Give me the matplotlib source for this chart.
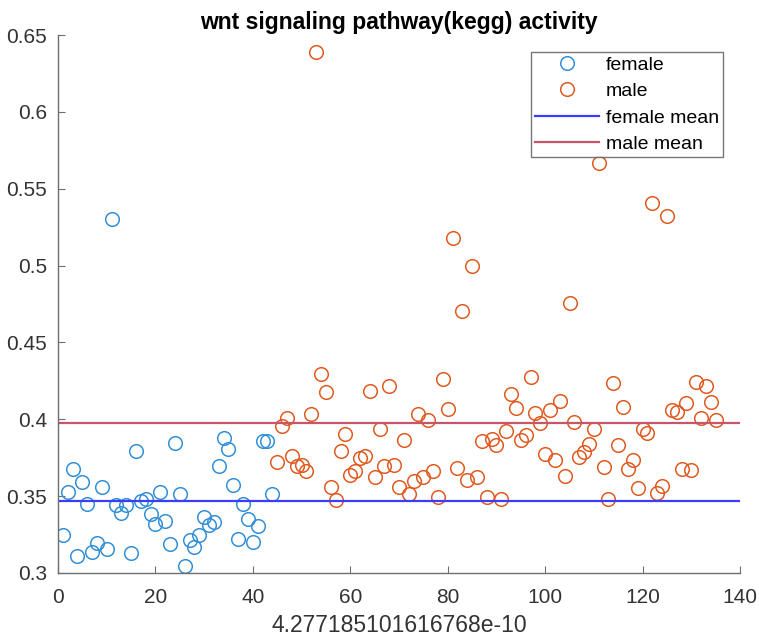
import matplotlib
matplotlib.use("Agg")
import matplotlib.pyplot as plt
import numpy as np

plt.rcParams['font.family'] = ['Liberation Sans', 'DejaVu Sans']

female_x = list(range(1, 45))
female_y = [0.3247, 0.3529, 0.3675, 0.3110, 0.3594, 0.3450, 0.3135, 0.3197, 0.3558, 0.3154,
            0.5300, 0.3440, 0.3388, 0.3440, 0.3132, 0.3796, 0.3470, 0.3484, 0.3384, 0.3319,
            0.3529, 0.3340, 0.3189, 0.3848, 0.3514, 0.3046, 0.3215, 0.3167, 0.3245, 0.3366,
            0.3312, 0.3334, 0.3698, 0.3880, 0.3807, 0.3570, 0.3219, 0.3450, 0.3351, 0.3202,
            0.3306, 0.3860, 0.3860, 0.3512]

male_x = list(range(45, 136))
male_y = [0.3720, 0.3958, 0.4010, 0.3761, 0.3696, 0.3700, 0.3662, 0.4034, 0.6392, 0.4293,
          0.4178, 0.3558, 0.3477, 0.3796, 0.3902, 0.3638, 0.3666, 0.3750, 0.3759, 0.4184,
          0.3627, 0.3935, 0.3696, 0.4217, 0.3705, 0.3562, 0.3863, 0.3514, 0.3599, 0.4033,
          0.3627, 0.3993, 0.3662, 0.3493, 0.4264, 0.4067, 0.5182, 0.3681, 0.4705, 0.3603,
          0.4997, 0.3627, 0.3861, 0.3493, 0.3870, 0.3833, 0.3484, 0.3922, 0.4167, 0.4076,
          0.3865, 0.3896, 0.4273, 0.4039, 0.3978, 0.3776, 0.4060, 0.3735, 0.4119, 0.3631,
          0.4759, 0.3980, 0.3757, 0.3785, 0.3839, 0.3937, 0.5670, 0.3692, 0.3480, 0.4238,
          0.3835, 0.4078, 0.3677, 0.3735, 0.3555, 0.3937, 0.3911, 0.5407, 0.3520, 0.3566,
          0.5321, 0.4062, 0.4049, 0.3679, 0.4104, 0.3673, 0.4245, 0.4006, 0.4219, 0.4111,
          0.3998]

female_mean = float(np.mean(female_y))
male_mean = float(np.mean(male_y))

fig = plt.figure(figsize=(7.59, 6.39), dpi=100)
ax = fig.add_axes([0.0764, 0.1033, 0.8986, 0.8419])

fc = '#3390d6'
mc = '#e05a20'
ax.plot(female_x, female_y, 'o', mfc='none', mec=fc, ms=9.8, mew=1.1, label='female')
ax.plot(male_x, male_y, 'o', mfc='none', mec=mc, ms=9.8, mew=1.1, label='male')
ax.axhline(female_mean, color='#3c3cff', lw=1.6, label='female mean')
ax.axhline(male_mean, color='#c8566a', lw=1.6, label='male mean')

ax.set_xlim(0, 140)
ax.set_ylim(0.3, 0.65)
ax.set_xticks(np.arange(0, 141, 20))
ax.set_yticks([0.3, 0.35, 0.4, 0.45, 0.5, 0.55, 0.6, 0.65])
ax.set_yticklabels(['0.3', '0.35', '0.4', '0.45', '0.5', '0.55', '0.6', '0.65'])
for s in ['top', 'right']:
    ax.spines[s].set_visible(False)
for s in ['left', 'bottom']:
    ax.spines[s].set_color('#6e6e6e')
    ax.spines[s].set_linewidth(1.0)
ax.tick_params(direction='in', length=5, color='#6e6e6e', labelsize=15, labelcolor='#333333')
ax.tick_params(axis='x', pad=11)
ax.tick_params(axis='y', pad=8)
ax.set_title('wnt signaling pathway(kegg) activity', fontsize=16.5, fontweight='bold', pad=4)
ax.set_xlabel('4.277185101616768e-10', fontsize=16.5, color='#333333', labelpad=5)

leg = ax.legend(loc='upper right', bbox_to_anchor=(0.981, 0.975), fontsize=14, frameon=True,
                fancybox=False, edgecolor='#555555', borderpad=0.2, handlelength=3.3,
                labelspacing=0.45, handletextpad=0.35, borderaxespad=0.2)
leg.get_frame().set_linewidth(1.0)

fig.savefig('out.png', dpi=100)
